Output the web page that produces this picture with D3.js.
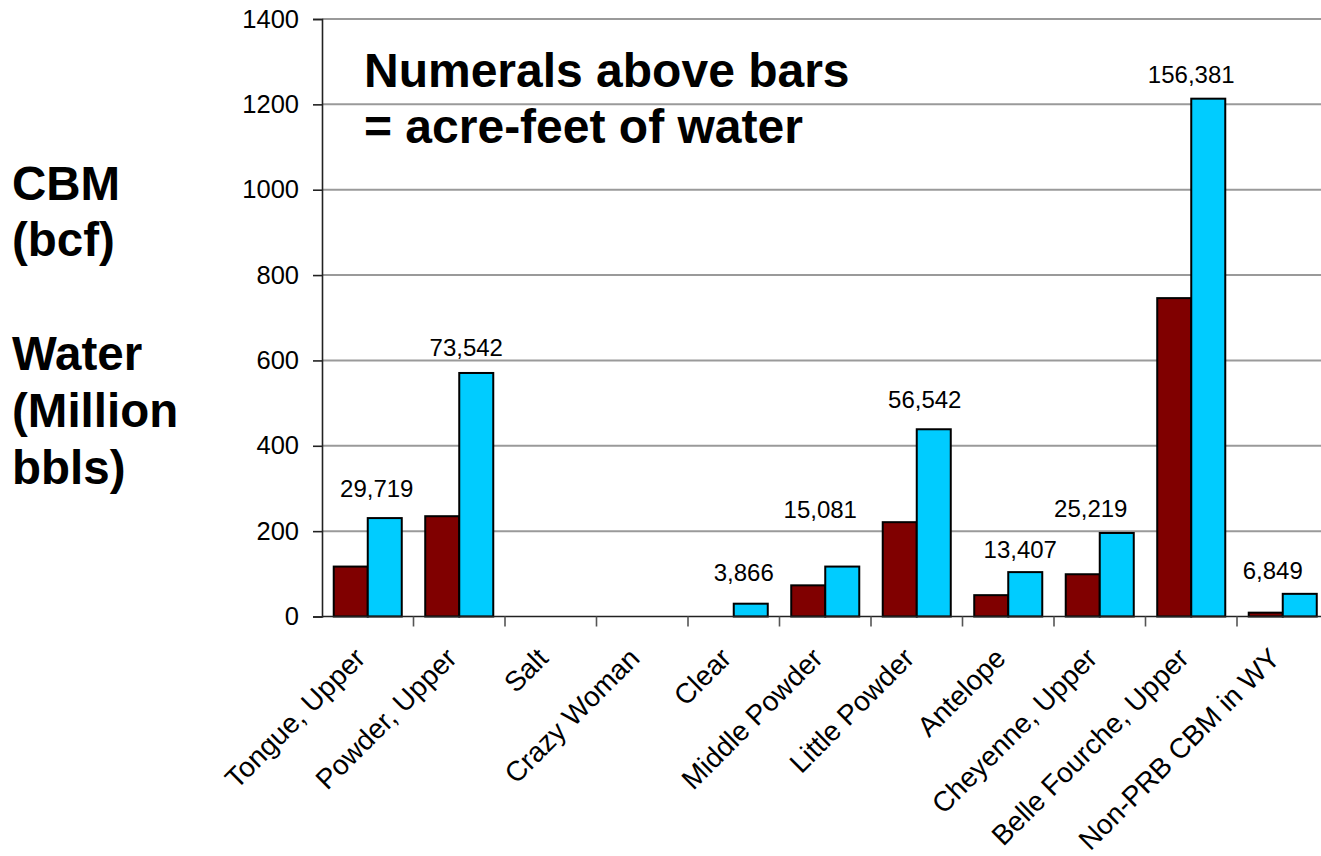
<!DOCTYPE html>
<html>
<head>
<meta charset="utf-8">
<script src="https://cdn.jsdelivr.net/npm/d3@7"></script>
<style>
  html, body { margin: 0; padding: 0; background: #fff; }
  svg { display: block; font-family: Arial, "Liberation Sans", sans-serif; }
</style>
</head>
<body>
<svg id="chart" width="1321" height="856"></svg>
<script>
// Powder River Basin drainages
const categories = [
  "Tongue, Upper", "Powder, Upper", "Salt", "Crazy Woman", "Clear",
  "Middle Powder", "Little Powder", "Antelope", "Cheyenne, Upper",
  "Belle Fourche, Upper", "Non-PRB CBM in WY"
];
// CBM gas (bcf)
const cbmBcf = [117, 235, 0, 0, 0, 73, 221, 50, 99, 746, 9];
// Produced water (million bbls)
const waterMbbl = [230.6, 570.6, 0, 0, 30.0, 117.0, 438.7, 104.0, 195.7, 1213.3, 53.1];
// Produced water (acre-feet), printed above the bars
const waterAcreFeet = [29719, 73542, null, null, 3866, 15081, 56542, 13407, 25219, 156381, 6849];
const yTicks = [0, 200, 400, 600, 800, 1000, 1200, 1400];

const seriesKeys = ["cbm", "water"];
const seriesColor = { cbm: "#800000", water: "#00CCFF" };

// hand-placed offsets of the acre-feet text boxes [dx, gap above bar]
const labelShift = [[9, 21], [7, 17], [0, 0], [0, 0], [10, 23], [-5, 49],
                    [8, 21], [12, 14], [-9, 16], [0, 16], [-10, 15]];

const rows = categories.map((c, i) => ({
  cat: c, cbm: cbmBcf[i], water: waterMbbl[i], af: waterAcreFeet[i], i
}));

const svg = d3.select("#chart");
const plotLeft = 322, plotRight = 1328.5, plotTop = 19, plotBottom = 616.5;

const x = d3.scaleBand().domain(categories).range([plotLeft, plotRight]).paddingInner(0).paddingOuter(0);
const xs = d3.scaleBand().domain(seriesKeys).range([0, x.bandwidth()]).paddingInner(0).paddingOuter(0.345);
const y = d3.scaleLinear().domain([0, 1400]).range([plotBottom, plotTop]);

// horizontal gridlines
svg.append("g")
  .selectAll("line")
  .data(yTicks.filter(t => t > 0))
  .join("line")
  .attr("x1", plotLeft).attr("x2", plotRight)
  .attr("y1", d => y(d)).attr("y2", d => y(d))
  .attr("stroke", "#9a9a9a").attr("stroke-width", 2);

// bars
const groups = svg.append("g")
  .selectAll("g")
  .data(rows)
  .join("g")
  .attr("transform", d => `translate(${x(d.cat)},0)`);

groups.selectAll("rect")
  .data(d => seriesKeys.map(k => ({ key: k, value: d[k] })).filter(s => s.value > 0))
  .join("rect")
  .attr("x", s => xs(s.key))
  .attr("width", xs.bandwidth())
  .attr("y", s => y(s.value))
  .attr("height", s => y(0) - y(s.value))
  .attr("fill", s => seriesColor[s.key])
  .attr("stroke", "#000")
  .attr("stroke-width", 2);

// acre-feet labels above the water bars
const fmt = d3.format(",");
svg.append("g")
  .selectAll("text")
  .data(rows.filter(d => d.af != null))
  .join("text")
  .attr("x", d => x(d.cat) + x.bandwidth() / 2 + labelShift[d.i][0])
  .attr("y", d => y(d.water) - labelShift[d.i][1])
  .attr("text-anchor", "middle")
  .attr("font-size", 24)
  .attr("fill", "#000")
  .text(d => fmt(d.af));

// y axis
const yAxis = svg.append("g")
  .attr("transform", `translate(${plotLeft},0)`)
  .call(d3.axisLeft(y).tickValues(yTicks).tickSize(9).tickPadding(14).tickFormat(d3.format("d")));
yAxis.select(".domain").attr("stroke", "#222").attr("stroke-width", 1.6);
yAxis.selectAll(".tick line").attr("stroke", "#222").attr("stroke-width", 1.6);
yAxis.selectAll(".tick text")
  .attr("font-size", 25.5).attr("fill", "#000")
  .attr("font-family", "Arial, 'Liberation Sans', sans-serif");

// x axis: tick marks at category boundaries
const xAxisG = svg.append("g").attr("transform", `translate(0,${plotBottom})`);
xAxisG.append("line")
  .attr("x1", plotLeft).attr("x2", plotRight)
  .attr("stroke", "#222").attr("stroke-width", 1.6);
xAxisG.selectAll("line.tk")
  .data(categories)
  .join("line")
  .attr("class", "tk")
  .attr("x1", d => x(d) + x.bandwidth())
  .attr("x2", d => x(d) + x.bandwidth())
  .attr("y1", 0).attr("y2", 10)
  .attr("stroke", "#555").attr("stroke-width", 1.6);

// rotated category labels
svg.append("g")
  .selectAll("text")
  .data(categories)
  .join("text")
  .attr("transform", d => `translate(${x(d) + x.bandwidth() / 2 - 1},660) rotate(-45)`)
  .attr("text-anchor", "end")
  .attr("font-size", 28)
  .attr("fill", "#000")
  .text(d => d);

// left-hand units title
const unitLines = [["CBM", 200], ["(bcf)", 256], ["Water", 370], ["(Million", 427], ["bbls)", 484]];
svg.append("g")
  .selectAll("text")
  .data(unitLines)
  .join("text")
  .attr("x", 12)
  .attr("y", d => d[1])
  .attr("font-size", 47.5)
  .attr("font-weight", "bold")
  .attr("fill", "#000")
  .text(d => d[0]);

// note inside the plot
const note = svg.append("text")
  .attr("x", 364)
  .attr("font-size", 48)
  .attr("font-weight", "bold")
  .attr("fill", "#000");
note.append("tspan").attr("x", 364).attr("y", 87).text("Numerals above bars");
note.append("tspan").attr("x", 364).attr("y", 143).text("= acre-feet of water");
</script>
</body>
</html>
